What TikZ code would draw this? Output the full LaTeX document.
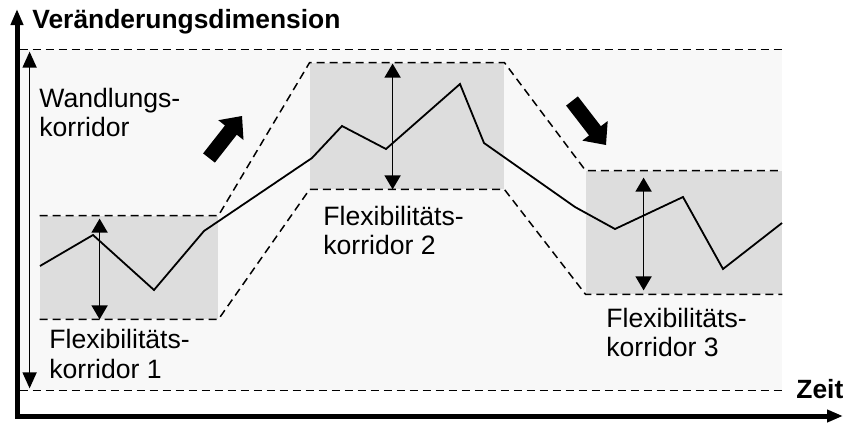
\documentclass[tikz,border=0pt]{standalone}
\usepackage{fontspec}
\setmainfont{Liberation Sans}
\usetikzlibrary{arrows.meta}
\definecolor{corridorbg}{HTML}{F8F8F8}
\definecolor{flexbg}{HTML}{DDDDDD}
\begin{document}
\begin{tikzpicture}[x=0.5pt,y=-0.5pt,
  txt/.style={font=\fontsize{13.3}{16}\selectfont, anchor=base west, inner sep=0pt},
  axistxt/.style={txt, font=\fontsize{13.2}{16}\selectfont\bfseries},
  corridor/.style={fill=#1, draw=none, inner sep=0pt},
  guide/.style={dash pattern=on 4pt off 2.5pt, line width=0.75pt},
  span/.style={line width=0.75pt, {Triangle[width=7pt,length=8pt]}-{Triangle[width=7pt,length=8pt]}},
  flexspan/.style={line width=0.8pt, {Triangle[width=8pt,length=7pt]}-{Triangle[width=8pt,length=7pt]}},
  course/.style={line width=0.9pt, line join=miter},
  axis/.style={line width=2.5pt, line join=miter, {Triangle[width=6pt,length=8pt]}-{Triangle[width=6pt,length=8pt]}},
  trend/.style={fill=black}
]
\useasboundingbox (0,0) rectangle (843,423);

% transformation corridor and the three flexibility corridors
\node[corridor=corridorbg, minimum width=381pt, minimum height=170pt] (wk) at (401,220) {};
\node[corridor=flexbg, minimum width=89pt, minimum height=51.5pt] (b1) at (129,267.5) {};
\node[corridor=flexbg, minimum width=97pt, minimum height=63pt] (b2) at (407,126) {};
\node[corridor=flexbg, minimum width=98pt, minimum height=61.5pt] (b3) at (684,232.5) {};

% corridor boundaries
\draw[guide] (wk.north west) -- (wk.north east);
\draw[guide] (wk.south west) -- (wk.south east);
\draw[guide] (b1.north west) -- (b1.north east) -- (b2.north west) -- (b2.north east) -- (b3.north west) -- (b3.north east);
\draw[guide] (b1.south west) -- (b1.south east) -- (b2.south west) -- (b2.south east) -- (b3.south west) -- (b3.south east);

% course of the change dimension over time
\draw[course] (40,266) -- (93,235) -- (154,290) -- (204,231) -- (312,158) -- (342,126) -- (386,149)
  -- (460,84) -- (484,143) -- (575,207) -- (615,229) -- (683,197) -- (723,269) -- (782,223);

% corridor widths
\draw[span] ([xshift=5pt,yshift=-1pt]wk.north west) -- ([xshift=5pt,yshift=1pt]wk.south west);
\draw[flexspan] ([xshift=30pt,yshift=-1.5pt]b1.north west) -- ([xshift=30pt,yshift=0pt]b1.south west);
\draw[flexspan] ([xshift=41.5pt,yshift=-0.5pt]b2.north west) -- ([xshift=41.5pt,yshift=0pt]b2.south west);
\draw[flexspan] ([xshift=29pt,yshift=-3.5pt]b3.north west) -- ([xshift=29pt,yshift=2pt]b3.south west);

% trend arrows
\fill[trend] (203.1,153.4) -- (225.0,125.5) -- (218.3,120.2) -- (242,116) -- (243.5,140.0) -- (236.8,134.7) -- (214.9,162.6) -- cycle;
\fill[trend] (566.1,105.6) -- (589.1,135.4) -- (582.3,140.6) -- (606,145) -- (607.7,121.0) -- (600.9,126.2) -- (577.9,96.4) -- cycle;

% labels
\node[txt] (wl1) at (39,107) {Wandlungs-};
\node[txt] (wl2) at (39,136) {korridor};
\node[txt] (f1a) at (49,348) {Flexibilitäts-};
\node[txt] (f1b) at (49,379) {korridor 1};
\node[txt] (f2a) at (323,225) {Flexibilitäts-};
\node[txt] (f2b) at (323,254) {korridor 2};
\node[txt] (f3a) at (606,327) {Flexibilitäts-};
\node[txt] (f3b) at (606,356) {korridor 3};

% axes
\coordinate (ytip) at (17,9);
\coordinate (orig) at (17,416);
\coordinate (xtip) at (843,416);
\draw[axis] (ytip) -- (orig) -- (xtip);
\node[axistxt] (ylab) at (32,28) {Veränderungsdimension};
\node[axistxt] (xlab) at (796,398) {Zeit};
\end{tikzpicture}
\end{document}
